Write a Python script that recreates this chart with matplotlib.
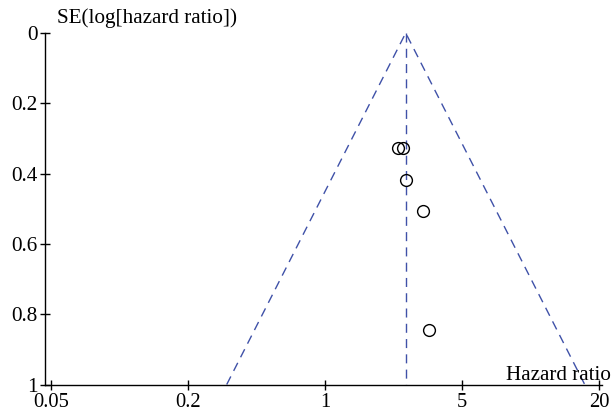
import numpy as np
import matplotlib
matplotlib.use("Agg")
import matplotlib.pyplot as plt

# study estimates
hr = [2.22, 2.35, 2.42, 2.92, 3.12]
se = [0.326, 0.326, 0.419, 0.505, 0.844]
pooled_hr = 2.42
se_max = 1.0

tick_vals = np.exp([-3, -1.5, 0, 1.5, 3])
tick_labels = ['0.05', '0.2', '1', '5', '20']
y_ticks = [0, 0.2, 0.4, 0.6, 0.8, 1]
y_labels = ['0', '0.2', '0.4', '0.6', '0.8', '1']

plt.rcParams['font.family'] = ['Liberation Serif', 'DejaVu Serif']
blue = '#3f51a8'
fs = 15.2

fig = plt.figure(figsize=(6.11, 4.12), dpi=100)
W, H = 611, 412
ax = fig.add_axes([45 / W, 27.5 / H, 557 / W, 351.5 / H])

# funnel: pooled estimate and 95% limits
lo = pooled_hr * np.exp(-1.96 * se_max)
hi = pooled_hr * np.exp(1.96 * se_max)
ax.plot([lo, pooled_hr, hi], [se_max, 0, se_max], color=blue, lw=1.0, dashes=(6.5, 4.5))
ax.plot([pooled_hr, pooled_hr], [0, se_max], color=blue, lw=1.0, dashes=(6.5, 4.5))

ax.plot(hr, se, 'o', mfc='none', mec='black', ms=8.5, mew=1.0)

ax.set_xscale('log')
ax.set_xlim(np.exp(-3.066), np.exp(3.033))
ax.set_ylim(1, 0)
ax.set_xticks(tick_vals)
ax.set_xticklabels(tick_labels)
ax.minorticks_off()
ax.set_yticks(y_ticks)
ax.set_yticklabels(y_labels)
ax.tick_params(direction='inout', length=7, width=1, labelsize=fs)
ax.tick_params(axis='x', pad=2.5, labelsize=14.8)
ax.tick_params(axis='y', pad=2)
# nudge the bottom "1" up a touch so it clears the 0.05 label
ax.get_yticklabels()[-1].set_verticalalignment('center_baseline')

for s in ['top', 'right']:
    ax.spines[s].set_visible(False)
for s in ['left', 'bottom']:
    ax.spines[s].set_linewidth(1.0)

fig.text(57 / W, 1 - 18 / H, 'SE(log[hazard ratio])', fontsize=fs, va='center', ha='left')
fig.text(611 / W, 1 - 380 / H, 'Hazard ratio', fontsize=fs, va='baseline', ha='right')

fig.savefig('out.png', dpi=100)
